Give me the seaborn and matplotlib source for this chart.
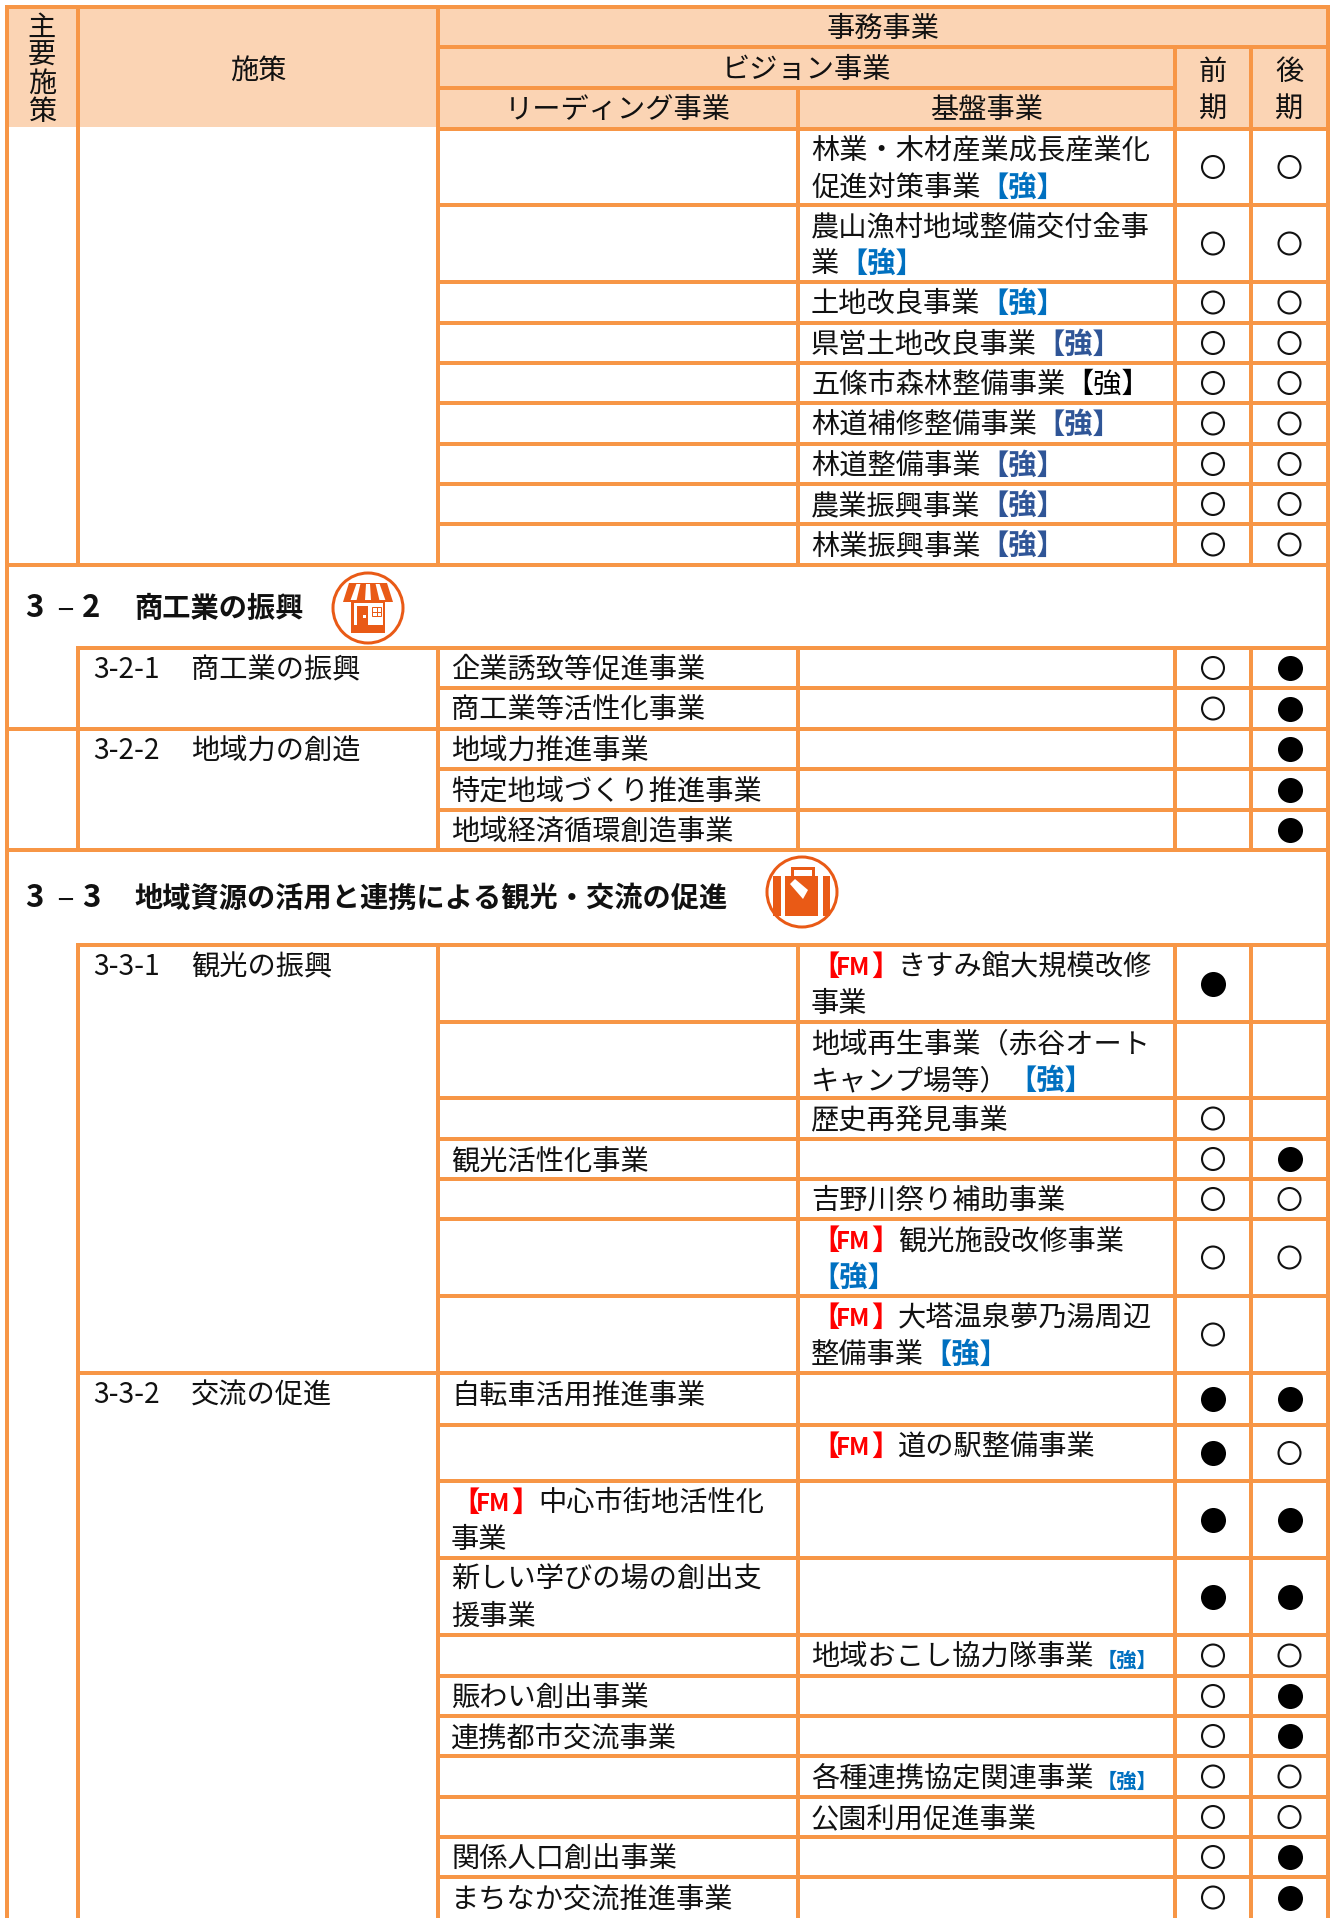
import re
import pandas as pd
import matplotlib
matplotlib.use("Agg")
import matplotlib.pyplot as plt
from matplotlib.patches import Circle, Polygon, Rectangle
import seaborn as sns

sns.set_theme(style="white")
plt.rcParams['font.family'] = ['Noto Sans CJK JP', 'DejaVu Sans']

LINE = '#F79646'
HEAD = '#FBD4B4'
ICON = '#E95A16'
BLUE = '#0070C0'
NAVY = '#2F5597'
PX = 0.72  # px to pt at dpi 100

# column edges of the table
col_edges = [7, 78, 438, 798, 1175, 1251, 1328]

# {S} blue tag, {D} dark blue tag, {K} black tag, {s} small tag, {F} red FM tag
rows_a_edges = [129, 205, 282, 323, 363, 403, 444, 484, 524, 565]
rows_a_lead = [''] * 9
rows_a_base = ['林業・木材産業成長産業化\n促進対策事業{S}', '農山漁村地域整備交付金事\n業{S}', '土地改良事業{S}',
               '県営土地改良事業{D}', '五條市森林整備事業{K}', '林道補修整備事業{D}', '林道整備事業{D}',
               '農業振興事業{D}', '林業振興事業{D}']
rows_a_early = [1, 1, 1, 1, 1, 1, 1, 1, 1]
rows_a_late = [1, 1, 1, 1, 1, 1, 1, 1, 1]

rows_b_edges = [648, 688, 729, 769, 810, 850]
rows_b_lead = ['企業誘致等促進事業', '商工業等活性化事業', '地域力推進事業', '特定地域づくり推進事業', '地域経済循環創造事業']
rows_b_base = [''] * 5
rows_b_early = [1, 1, 0, 0, 0]
rows_b_late = [2, 2, 2, 2, 2]

rows_c_edges = [945, 1022, 1098, 1139, 1179, 1219, 1296, 1373, 1425, 1481, 1558, 1635,
                1676, 1716, 1756, 1797, 1837, 1877, 1918]
rows_c_lead = ['', '', '', '観光活性化事業', '', '', '', '自転車活用推進事業', '',
               '{F}中心市街地活性化\n事業', '新しい学びの場の創出支\n援事業', '', '賑わい創出事業',
               '連携都市交流事業', '', '', '関係人口創出事業', 'まちなか交流推進事業']
rows_c_base = ['{F}きすみ館大規模改修\n事業', '地域再生事業（赤谷オート\nキャンプ場等）{S}', '歴史再発見事業', '',
               '吉野川祭り補助事業', '{F}観光施設改修事業\n{S}', '{F}大塔温泉夢乃湯周辺\n整備事業{S}', '',
               '{F}道の駅整備事業', '', '', '地域おこし協力隊事業{s}', '', '', '各種連携協定関連事業{s}',
               '公園利用促進事業', '', '']
rows_c_early = [2, 0, 1, 1, 1, 1, 1, 2, 2, 2, 2, 1, 1, 1, 1, 1, 1, 1]
rows_c_late = [0, 0, 0, 2, 1, 1, 0, 2, 1, 2, 2, 1, 2, 2, 1, 1, 2, 2]

# measure names: (number, label, top of group)
policy_labels = [('3-2-1', '商工業の振興', 648), ('3-2-2', '地域力の創造', 729),
                 ('3-3-1', '観光の振興', 945), ('3-3-2', '交流の促進', 1373)]
section_labels = [('3', '－', '2', '商工業の振興', 607), ('3', '－', '3', '地域資源の活用と連携による観光・交流の促進', 897)]

head_side = ['主', '要', '施', '策']

tags = {'S': ('【強】', BLUE, 'bold', 1.0), 'D': ('【強】', NAVY, 'bold', 1.0),
        'K': ('【強】', 'black', 'normal', 1.0), 's': ('【強】', BLUE, 'bold', 0.72)}

fig = plt.figure(figsize=(13.35, 19.18), dpi=100)
ax = fig.add_axes([0, 0, 1, 1])
ax.set_xlim(0, 1335)
ax.set_ylim(1918, 0)
ax.axis('off')


def put(x, y, s, size=28.2, color='#111111', weight='normal', ha='left'):
    ax.text(x, y + 0.36 * 28.2, s, fontsize=size * PX, color=color, fontweight=weight,
            ha=ha, va='baseline', zorder=5)


def rich(x, y, text):
    # draws one cell, line by line, tag by tag
    for i, line in enumerate(text.split('\n')):
        cur = x
        ly = y + i * 37
        for part in re.split(r'(\{\w\})', line):
            if not part:
                continue
            m = re.fullmatch(r'\{(\w)\}', part)
            if m is None:
                put(cur, ly, part)
                cur += len(part) * 28.2
            elif m.group(1) == 'F':
                put(cur, ly, '【', color='#FF0000', weight='bold')
                put(cur + 42, ly, 'FM', size=24, color='#FF0000', weight='bold', ha='center')
                put(cur + 60, ly, '】', color='#FF0000', weight='bold')
                cur += 87
            else:
                s, c, w, k = tags[m.group(1)]
                if k < 1:
                    put(cur + 4, ly + 2, s, size=28.2 * k, color=c, weight=w)
                else:
                    put(cur, ly, s, color=c, weight=w)
                cur += len(s) * 28.2 * k


# header fill
ax.add_patch(Rectangle((7, 7), 1321, 120, fc=HEAD, ec='none', zorder=0))


def hl(y, x0, x1):
    ax.hlines(y, x0, x1, color=LINE, lw=4 * PX, capstyle='butt', zorder=2)


def vl(x, y0, y1):
    ax.vlines(x, y0, y1, color=LINE, lw=4 * PX, capstyle='butt', zorder=2)


c0, c1, c2, c3, c4, c5, c6 = col_edges
hl(7, c0 - 2, c6 + 2)
hl(47, c2, c6)
hl(88, c2, c4)
vl(c0, 5, 1918)
vl(c6, 5, 1918)
vl(c1, 7, rows_a_edges[-1])
vl(c2, 7, rows_a_edges[-1])
vl(c3, 88, rows_a_edges[-1])
vl(c4, 47, rows_a_edges[-1])
vl(c5, 47, rows_a_edges[-1])
for e in rows_a_edges[:-1]:
    hl(e, c2, c6)
hl(rows_a_edges[-1], c0, c6)

for edges in (rows_b_edges, rows_c_edges):
    for c in col_edges[1:-1]:
        vl(c, edges[0], edges[-1])
    hl(edges[0], c1 - 2, c6)
    for e in edges[1:-1]:
        hl(e, c2, c6)
hl(rows_b_edges[2], c0, c6)
hl(rows_b_edges[-1], c0, c6)
hl(rows_c_edges[7], c1, c6)

# header text
put((c2 + c6) / 2, 27, '事務事業', ha='center')
put((c2 + c4) / 2, 68, 'ビジョン事業', ha='center')
put((c2 + c3) / 2, 108, 'リーディング事業', ha='center')
put((c3 + c4) / 2, 108, '基盤事業', ha='center')
put((c1 + c2) / 2, 69, '施策', ha='center')
put((c4 + c5) / 2, 70, '前', ha='center')
put((c4 + c5) / 2, 107, '期', ha='center')
put((c5 + c6) / 2, 70, '後', ha='center')
put((c5 + c6) / 2, 107, '期', ha='center')
for i, ch in enumerate(head_side):
    put(42, 26 + i * 28, ch, ha='center')

# cell text
marks = []
for edges, lead, base, early, late in [(rows_a_edges, rows_a_lead, rows_a_base, rows_a_early, rows_a_late),
                                       (rows_b_edges, rows_b_lead, rows_b_base, rows_b_early, rows_b_late),
                                       (rows_c_edges, rows_c_lead, rows_c_base, rows_c_early, rows_c_late)]:
    for i in range(len(lead)):
        rich(451, edges[i] + 20, lead[i])
        rich(811, edges[i] + 20, base[i])
        yc = (edges[i] + edges[i + 1]) / 2
        marks.append({'x': (c4 + c5) / 2, 'y': yc, 'kind': early[i]})
        marks.append({'x': (c5 + c6) / 2, 'y': yc, 'kind': late[i]})

for num, name, y in policy_labels:
    put(93, y + 20, num)
    put(191, y + 20, name)
for a, b, d, name, y in section_labels:
    put(25, y, a, size=31, weight='bold')
    put(65, y, b, size=20, weight='bold', ha='center')
    put(82, y, d, size=31, weight='bold')
    put(134, y, name, weight='bold')

df = pd.DataFrame(marks)
sns.scatterplot(data=df[df['kind'] == 1], x='x', y='y', s=250, marker='o', facecolor='none',
                edgecolor='#111111', linewidth=1.5, ax=ax, zorder=4, legend=False)
sns.scatterplot(data=df[df['kind'] == 2], x='x', y='y', s=325, marker='o', color='black',
                linewidth=0, ax=ax, zorder=4, legend=False)
ax.set_xlim(0, 1335)
ax.set_ylim(1918, 0)
ax.axis('off')


# icons
def add(p):
    p.set_zorder(6)
    ax.add_patch(p)


def shop_icon(cx, cy):
    add(Circle((cx, cy), 35, fc='white', ec=ICON, lw=3 * PX))
    add(Polygon([(cx - 19, cy - 25), (cx + 19, cy - 25), (cx + 25, cy - 6), (cx - 25, cy - 6)], fc=ICON, ec='none'))
    for k in (-12, 0, 12):
        add(Polygon([(cx + k * 0.8 - 2, cy - 24), (cx + k * 0.8 + 2, cy - 24), (cx + k * 1.2 + 3, cy - 8), (cx + k * 1.2 - 3, cy - 8)],
                    fc='white', ec='none'))
    add(Rectangle((cx - 17, cy - 6), 34, 31, fc=ICON, ec='none'))
    add(Rectangle((cx - 14, cy - 5), 29, 22, fc='white', ec='none'))
    add(Rectangle((cx - 11, cy - 2), 11, 27, fc=ICON, ec='none'))
    add(Rectangle((cx - 5, cy + 7), 3, 3, fc='white', ec='none'))
    add(Rectangle((cx + 4, cy - 1), 9, 9, fc='none', ec=ICON, lw=1 * PX))
    ax.hlines(cy + 3.5, cx + 4, cx + 13, color=ICON, lw=1 * PX, zorder=7)
    ax.vlines(cx + 8.5, cy - 1, cy + 8, color=ICON, lw=1 * PX, zorder=7)


def bag_icon(cx, cy):
    add(Circle((cx, cy), 35, fc='white', ec=ICON, lw=3 * PX))
    add(Rectangle((cx - 10, cy - 24), 21, 12, fc='none', ec=ICON, lw=3 * PX))
    add(Rectangle((cx - 17, cy - 16), 33, 40, fc=ICON, ec='none'))
    add(Rectangle((cx - 29, cy - 16), 8, 40, fc=ICON, ec='none'))
    add(Rectangle((cx + 21, cy - 16), 7, 40, fc=ICON, ec='none'))
    add(Polygon([(cx - 12, cy - 8), (cx - 7, cy - 13), (cx + 6, cy - 2), (cx + 1, cy + 7)], fc='white', ec='none'))


shop_icon(368, 608)
bag_icon(802, 892)

fig.savefig('out.png', dpi=100, facecolor='white')
